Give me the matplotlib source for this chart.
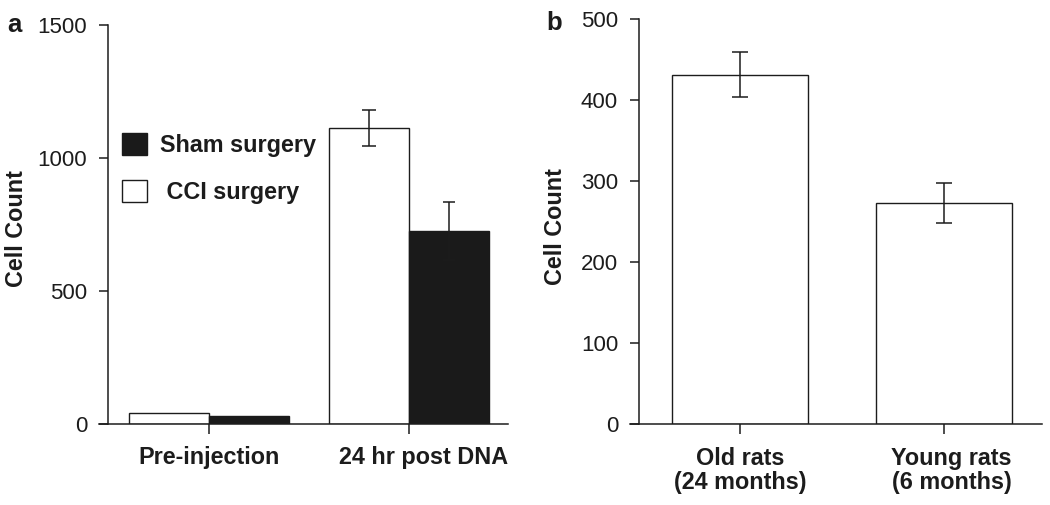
import numpy as np
import matplotlib
matplotlib.use("Agg")
import matplotlib.pyplot as plt
from matplotlib.patches import Patch
from matplotlib.transforms import ScaledTranslation

plt.rcParams['font.family'] = ['Liberation Sans', 'DejaVu Sans']

# panel a data
groups_a = ["Pre-injection", "24 hr post DNA"]
cci_mean = [42, 1114]
cci_err = [0, 68]
sham_mean = [30, 725]
sham_err = [0, 108]

# panel b data
groups_b = ["Old rats\n(24 months)", "Young rats\n(6 months)"]
age_mean = [431, 273]
age_err = [28, 25]

ink = '#1c1c1c'
fig = plt.figure(figsize=(10.5, 5.05), dpi=100)


def style_axes(ax, left_at):
    for s in ['top', 'right']:
        ax.spines[s].set_visible(False)
    for s in ['left', 'bottom']:
        ax.spines[s].set_linewidth(1.1)
        ax.spines[s].set_color(ink)
    ax.spines['left'].set_position(('data', left_at))
    ax.tick_params(axis='y', direction='out', length=6.5, width=1.1, labelsize=16,
                   pad=8.5, colors=ink)
    ax.tick_params(axis='x', direction='out', length=7, width=1.1, labelsize=16.8,
                   pad=9, colors=ink)
    for lab in ax.get_xticklabels():
        lab.set_fontweight('bold')


# ---- panel a ----
ax_a = fig.add_axes([99 / 1050, 1 - 424 / 505, 409 / 1050, 399 / 505])
x = np.arange(len(groups_a))
w = 0.4
ax_a.bar(x - w / 2, cci_mean, w, color='white', edgecolor=ink, linewidth=1.0)
ax_a.bar(x + w / 2, sham_mean, w, color='#1a1a1a', edgecolor='#1a1a1a', linewidth=1.0)
for i in range(len(x)):
    if cci_err[i] > 0:
        ax_a.errorbar(x[i] - w / 2, cci_mean[i], yerr=cci_err[i], fmt='none',
                      ecolor=ink, elinewidth=1.1, capsize=5, capthick=1.1)
    if sham_err[i] > 0:
        ax_a.errorbar(x[i] + w / 2, sham_mean[i], yerr=sham_err[i], fmt='none',
                      ecolor=ink, elinewidth=1.1, capsize=4.5, capthick=1.1)
ax_a.set_xlim(-0.55, 1.495)
ax_a.set_ylim(0, 1500)
ax_a.set_yticks([0, 500, 1000, 1500])
ax_a.set_xticks(x)
ax_a.set_xticklabels(groups_a)
style_axes(ax_a, -0.505)
ax_a.set_ylabel('Cell Count', fontsize=16.8, fontweight='bold', color=ink)
ax_a.yaxis.set_label_coords((28 - 99) / 409, 0.489)
lbl = ax_a.get_xticklabels()[1]
lbl.set_transform(lbl.get_transform() + ScaledTranslation(15 / 100, 0, fig.dpi_scale_trans))

handles = [Patch(facecolor='#1a1a1a', edgecolor='#1a1a1a'),
           Patch(facecolor='white', edgecolor=ink, linewidth=1.0)]
ax_a.legend(handles, ['Sham surgery', ' CCI surgery'], loc='upper left',
            bbox_to_anchor=(122 / 1050, 1 - 133 / 505), bbox_transform=fig.transFigure,
            frameon=False, handlelength=1.07, handleheight=1.07, handletextpad=0.55,
            labelspacing=1.0, borderpad=0, borderaxespad=0,
            prop={'weight': 'bold', 'size': 16.8}, labelcolor=ink)

# ---- panel b ----
ax_b = fig.add_axes([630 / 1050, 1 - 424.3 / 505, 412 / 1050, 405.6 / 505])
xb = np.arange(len(groups_b))
ax_b.bar(xb, age_mean, 0.667, color='white', edgecolor=ink, linewidth=1.0)
ax_b.errorbar(xb, age_mean, yerr=age_err, fmt='none', ecolor=ink,
              elinewidth=1.1, capsize=6, capthick=1.1)
ax_b.set_xlim(-0.542, 1.483)
ax_b.set_ylim(0, 500)
ax_b.set_yticks([0, 100, 200, 300, 400, 500])
ax_b.set_xticks(xb)
ax_b.set_xticklabels(groups_b, linespacing=1.1)
style_axes(ax_b, -0.498)
ax_b.set_ylabel('Cell Count', fontsize=16.8, fontweight='bold', color=ink)
ax_b.yaxis.set_label_coords((567 - 630) / 412, 0.488)
lbl = ax_b.get_xticklabels()[1]
lbl.set_transform(lbl.get_transform() + ScaledTranslation(8 / 100, 0, fig.dpi_scale_trans))

fig.text(7 / 1050, 1 - 32 / 505, 'a', fontsize=18.5, fontweight='bold', color=ink, va='baseline')
fig.text(546 / 1050, 1 - 30 / 505, 'b', fontsize=18.5, fontweight='bold', color=ink, va='baseline')

fig.savefig('out.png', dpi=100)
